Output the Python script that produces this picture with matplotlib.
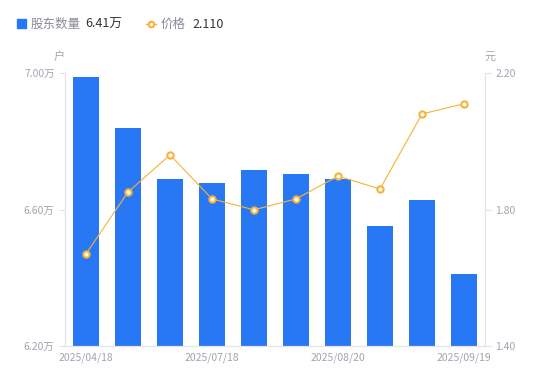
import matplotlib.pyplot as plt
import numpy as np

plt.rcParams['font.family'] = ['Noto Sans CJK SC', 'DejaVu Sans']

# données
dates = ['2025/04/18', '2025/04/30', '2025/06/30', '2025/07/18', '2025/07/31',
         '2025/08/10', '2025/08/20', '2025/08/29', '2025/09/10', '2025/09/19']
holders = [6.988, 6.839, 6.689, 6.678, 6.716, 6.704, 6.689, 6.552, 6.628, 6.41]  # 万户
price = [1.670, 1.851, 1.960, 1.831, 1.799, 1.831, 1.898, 1.860, 2.080, 2.110]
left_ticks = [6.20, 6.60, 7.00]
right_ticks = [1.40, 1.80, 2.20]

blue = '#2878F5'
orange = '#F7B236'
grey = '#A3A3B0'
axis_col = '#E3E3E8'

fig = plt.figure(figsize=(5.5, 3.81), dpi=100)
ax = fig.add_axes([65/550, 1 - 346/381, 420/550, 273/381])
ax2 = ax.twinx()

x = np.arange(len(dates))
ax.bar(x, holders, width=0.6, color=blue, zorder=2)
ax.set_ylim(6.2, 7.0)
ax.set_xlim(-0.5, len(dates) - 0.5)
ax.set_yticks(left_ticks)
ax.set_yticklabels([f'{v:.2f}万' for v in left_ticks])
ax.set_xticks(x[::3])
ax.set_xticklabels([dates[i] for i in x[::3]])

ax2.plot(x, price, color=orange, linewidth=0.8, marker='o', markersize=4.5,
         markerfacecolor='white', markeredgecolor=orange, markeredgewidth=1.5, zorder=3)
ax2.set_ylim(1.4, 2.2)
ax2.set_yticks(right_ticks)
ax2.set_yticklabels([f'{v:.2f}' for v in right_ticks])

for a in (ax, ax2):
    for s in a.spines.values():
        s.set_color(axis_col)
    a.spines['top'].set_visible(False)
    a.tick_params(colors=axis_col, labelcolor=grey, labelsize=7.5, length=4, width=0.8)
ax.tick_params(axis='x', length=0, pad=5)

fig.text(59/550, 1 - 57/381, '户', color=grey, fontsize=8, ha='center', va='center')
fig.text(490/550, 1 - 57/381, '元', color=grey, fontsize=8, ha='center', va='center')

# légende
fig.patches.append(plt.Rectangle((17/550, 1 - 28/381), 9/550, 9/381, color=blue,
                                 transform=fig.transFigure, figure=fig))
fig.text(31/550, 1 - 24/381, '股东数量', color='#8A8A99', fontsize=9, va='center')
fig.text(85/550, 1 - 24/381, '6.41万', color='#333333', fontsize=9, va='center')
fig.lines.append(plt.Line2D([146/550, 151/550, 156/550], [1 - 24/381] * 3, color=orange,
                            linewidth=1, marker='o', markersize=4, markevery=[1],
                            markerfacecolor='white', markeredgewidth=1.5,
                            transform=fig.transFigure))
fig.text(161/550, 1 - 24/381, '价格', color='#8A8A99', fontsize=9, va='center')
fig.text(192/550, 1 - 24/381, '2.110', color='#333333', fontsize=9, va='center')

fig.savefig('out.png', dpi=100)
